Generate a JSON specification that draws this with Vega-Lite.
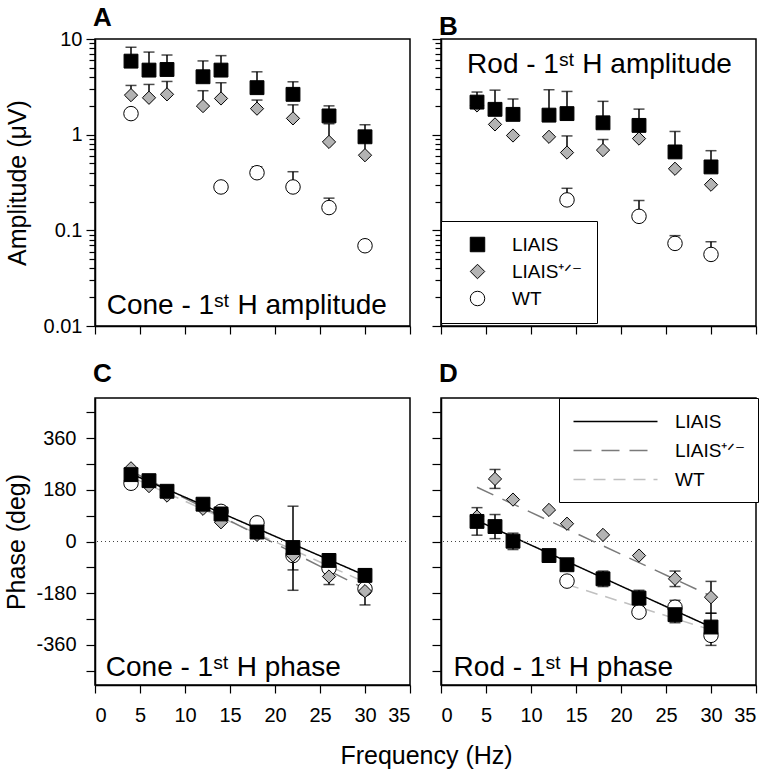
{
  "$schema": "https://vega.github.io/schema/vega-lite/v6.json",
  "padding": {"left": 4, "top": 4, "right": 5, "bottom": 5},
  "config": {
    "font": "Liberation Sans",
    "view": {"stroke": "black", "strokeWidth": 1.5},
    "axis": {"domainColor": "black", "domainWidth": 1.5, "tickColor": "black", "tickWidth": 1.2, "tickSize": 8, "labelFontSize": 20, "labelColor": "black", "labelFont": "Liberation Sans", "titleFontSize": 25, "titleFontWeight": "normal", "titleColor": "black", "titleFont": "Liberation Sans", "grid": false, "labelOverlap": false},
    "legend": {"labelFont": "Liberation Sans", "labelColor": "black"},
    "style": {"group-title": {"fontSize": 26, "fontWeight": "bold", "color": "black", "font": "Liberation Sans"}}
  },
  "datasets": {
    "amp": [
      {"panel": "A", "grp": "WT", "f": 4, "amp": 1.66},
      {"panel": "A", "grp": "WT", "f": 14, "amp": 0.284, "hi": 0.31},
      {"panel": "A", "grp": "WT", "f": 18, "amp": 0.40, "hi": 0.46},
      {"panel": "A", "grp": "WT", "f": 22, "amp": 0.284, "hi": 0.41},
      {"panel": "A", "grp": "WT", "f": 26, "amp": 0.173, "hi": 0.217},
      {"panel": "A", "grp": "WT", "f": 30, "amp": 0.069},
      {"panel": "A", "grp": "LIAIS⁺ᐟ⁻", "f": 4, "amp": 2.59, "hi": 3.27},
      {"panel": "A", "grp": "LIAIS⁺ᐟ⁻", "f": 6, "amp": 2.43, "hi": 3.35},
      {"panel": "A", "grp": "LIAIS⁺ᐟ⁻", "f": 8, "amp": 2.64, "hi": 3.6},
      {"panel": "A", "grp": "LIAIS⁺ᐟ⁻", "f": 12, "amp": 1.99, "hi": 2.88},
      {"panel": "A", "grp": "LIAIS⁺ᐟ⁻", "f": 14, "amp": 2.39, "hi": 3.49},
      {"panel": "A", "grp": "LIAIS⁺ᐟ⁻", "f": 18, "amp": 1.87, "hi": 2.3},
      {"panel": "A", "grp": "LIAIS⁺ᐟ⁻", "f": 22, "amp": 1.48, "hi": 2.05},
      {"panel": "A", "grp": "LIAIS⁺ᐟ⁻", "f": 26, "amp": 0.84, "hi": 1.3},
      {"panel": "A", "grp": "LIAIS⁺ᐟ⁻", "f": 30, "amp": 0.61, "hi": 0.9},
      {"panel": "A", "grp": "LIAIS", "f": 4, "amp": 5.87, "hi": 8.2},
      {"panel": "A", "grp": "LIAIS", "f": 6, "amp": 4.73, "hi": 7.3},
      {"panel": "A", "grp": "LIAIS", "f": 8, "amp": 4.8, "hi": 6.8},
      {"panel": "A", "grp": "LIAIS", "f": 12, "amp": 4.03, "hi": 5.9},
      {"panel": "A", "grp": "LIAIS", "f": 14, "amp": 4.73, "hi": 6.7},
      {"panel": "A", "grp": "LIAIS", "f": 18, "amp": 3.1, "hi": 4.54},
      {"panel": "A", "grp": "LIAIS", "f": 22, "amp": 2.64, "hi": 3.57},
      {"panel": "A", "grp": "LIAIS", "f": 26, "amp": 1.57, "hi": 2.0},
      {"panel": "A", "grp": "LIAIS", "f": 30, "amp": 0.95, "hi": 1.27},
      {"panel": "B", "grp": "WT", "f": 14, "amp": 0.208, "hi": 0.275},
      {"panel": "B", "grp": "WT", "f": 22, "amp": 0.14, "hi": 0.205},
      {"panel": "B", "grp": "WT", "f": 26, "amp": 0.073, "hi": 0.088},
      {"panel": "B", "grp": "WT", "f": 30, "amp": 0.056, "hi": 0.076},
      {"panel": "B", "grp": "LIAIS⁺ᐟ⁻", "f": 4, "amp": 2.02},
      {"panel": "B", "grp": "LIAIS⁺ᐟ⁻", "f": 6, "amp": 1.28},
      {"panel": "B", "grp": "LIAIS⁺ᐟ⁻", "f": 8, "amp": 0.98},
      {"panel": "B", "grp": "LIAIS⁺ᐟ⁻", "f": 12, "amp": 0.95},
      {"panel": "B", "grp": "LIAIS⁺ᐟ⁻", "f": 14, "amp": 0.65, "hi": 0.97},
      {"panel": "B", "grp": "LIAIS⁺ᐟ⁻", "f": 18, "amp": 0.69, "hi": 0.89},
      {"panel": "B", "grp": "LIAIS⁺ᐟ⁻", "f": 22, "amp": 0.91},
      {"panel": "B", "grp": "LIAIS⁺ᐟ⁻", "f": 26, "amp": 0.44},
      {"panel": "B", "grp": "LIAIS⁺ᐟ⁻", "f": 30, "amp": 0.30},
      {"panel": "B", "grp": "LIAIS", "f": 4, "amp": 2.19, "hi": 2.79},
      {"panel": "B", "grp": "LIAIS", "f": 6, "amp": 1.84, "hi": 2.92},
      {"panel": "B", "grp": "LIAIS", "f": 8, "amp": 1.63, "hi": 2.36},
      {"panel": "B", "grp": "LIAIS", "f": 12, "amp": 1.60, "hi": 2.95},
      {"panel": "B", "grp": "LIAIS", "f": 14, "amp": 1.66, "hi": 2.83},
      {"panel": "B", "grp": "LIAIS", "f": 18, "amp": 1.33, "hi": 2.23},
      {"panel": "B", "grp": "LIAIS", "f": 22, "amp": 1.25, "hi": 1.85},
      {"panel": "B", "grp": "LIAIS", "f": 26, "amp": 0.66, "hi": 1.08},
      {"panel": "B", "grp": "LIAIS", "f": 30, "amp": 0.46, "hi": 0.68}
    ],
    "phase": [
      {"panel": "C", "grp": "WT", "f": 4, "ph": 203},
      {"panel": "C", "grp": "WT", "f": 14, "ph": 105},
      {"panel": "C", "grp": "WT", "f": 18, "ph": 65},
      {"panel": "C", "grp": "WT", "f": 22, "ph": -49, "lo": -99, "hi": 0},
      {"panel": "C", "grp": "WT", "f": 26, "ph": -93},
      {"panel": "C", "grp": "WT", "f": 30, "ph": -165},
      {"panel": "C", "grp": "LIAIS⁺ᐟ⁻", "f": 4, "ph": 255},
      {"panel": "C", "grp": "LIAIS⁺ᐟ⁻", "f": 6, "ph": 193},
      {"panel": "C", "grp": "LIAIS⁺ᐟ⁻", "f": 8, "ph": 160},
      {"panel": "C", "grp": "LIAIS⁺ᐟ⁻", "f": 12, "ph": 114},
      {"panel": "C", "grp": "LIAIS⁺ᐟ⁻", "f": 14, "ph": 67},
      {"panel": "C", "grp": "LIAIS⁺ᐟ⁻", "f": 18, "ph": 23},
      {"panel": "C", "grp": "LIAIS⁺ᐟ⁻", "f": 22, "ph": -49},
      {"panel": "C", "grp": "LIAIS⁺ᐟ⁻", "f": 26, "ph": -122, "lo": -150, "hi": -94},
      {"panel": "C", "grp": "LIAIS⁺ᐟ⁻", "f": 30, "ph": -173, "lo": -221, "hi": -125},
      {"panel": "C", "grp": "LIAIS", "f": 4, "ph": 233},
      {"panel": "C", "grp": "LIAIS", "f": 6, "ph": 212},
      {"panel": "C", "grp": "LIAIS", "f": 8, "ph": 175},
      {"panel": "C", "grp": "LIAIS", "f": 12, "ph": 130},
      {"panel": "C", "grp": "LIAIS", "f": 14, "ph": 96},
      {"panel": "C", "grp": "LIAIS", "f": 18, "ph": 33},
      {"panel": "C", "grp": "LIAIS", "f": 22, "ph": -21, "lo": -170, "hi": 123},
      {"panel": "C", "grp": "LIAIS", "f": 26, "ph": -66},
      {"panel": "C", "grp": "LIAIS", "f": 30, "ph": -118, "lo": -140, "hi": -95},
      {"panel": "D", "grp": "WT", "f": 14, "ph": -138},
      {"panel": "D", "grp": "WT", "f": 22, "ph": -246},
      {"panel": "D", "grp": "WT", "f": 26, "ph": -229, "lo": -255, "hi": -205},
      {"panel": "D", "grp": "WT", "f": 30, "ph": -327, "lo": -362, "hi": -292},
      {"panel": "D", "grp": "LIAIS⁺ᐟ⁻", "f": 4, "ph": 87},
      {"panel": "D", "grp": "LIAIS⁺ᐟ⁻", "f": 6, "ph": 218, "lo": 185, "hi": 251},
      {"panel": "D", "grp": "LIAIS⁺ᐟ⁻", "f": 8, "ph": 146},
      {"panel": "D", "grp": "LIAIS⁺ᐟ⁻", "f": 12, "ph": 110},
      {"panel": "D", "grp": "LIAIS⁺ᐟ⁻", "f": 14, "ph": 62},
      {"panel": "D", "grp": "LIAIS⁺ᐟ⁻", "f": 18, "ph": 23},
      {"panel": "D", "grp": "LIAIS⁺ᐟ⁻", "f": 22, "ph": -49},
      {"panel": "D", "grp": "LIAIS⁺ᐟ⁻", "f": 26, "ph": -130, "lo": -157, "hi": -103},
      {"panel": "D", "grp": "LIAIS⁺ᐟ⁻", "f": 30, "ph": -194, "lo": -250, "hi": -139},
      {"panel": "D", "grp": "LIAIS", "f": 4, "ph": 70, "lo": 22, "hi": 118},
      {"panel": "D", "grp": "LIAIS", "f": 6, "ph": 52, "lo": 10, "hi": 94},
      {"panel": "D", "grp": "LIAIS", "f": 8, "ph": 1, "lo": -28, "hi": 29},
      {"panel": "D", "grp": "LIAIS", "f": 12, "ph": -49},
      {"panel": "D", "grp": "LIAIS", "f": 14, "ph": -81},
      {"panel": "D", "grp": "LIAIS", "f": 18, "ph": -130, "lo": -157, "hi": -103},
      {"panel": "D", "grp": "LIAIS", "f": 22, "ph": -197, "lo": -223, "hi": -170},
      {"panel": "D", "grp": "LIAIS", "f": 26, "ph": -255, "lo": -283, "hi": -228},
      {"panel": "D", "grp": "LIAIS", "f": 30, "ph": -298, "lo": -343, "hi": -250}
    ],
    "fit": [
      {"panel": "C", "line": "WT", "f": 4, "ph": 225},
      {"panel": "C", "line": "WT", "f": 30, "ph": -142},
      {"panel": "C", "line": "LIAIS⁺ᐟ⁻", "f": 4, "ph": 245},
      {"panel": "C", "line": "LIAIS⁺ᐟ⁻", "f": 30, "ph": -165},
      {"panel": "C", "line": "LIAIS", "f": 4, "ph": 236},
      {"panel": "C", "line": "LIAIS", "f": 30, "ph": -118},
      {"panel": "D", "line": "WT", "f": 14, "ph": -150},
      {"panel": "D", "line": "WT", "f": 30, "ph": -308},
      {"panel": "D", "line": "LIAIS⁺ᐟ⁻", "f": 4, "ph": 189},
      {"panel": "D", "line": "LIAIS⁺ᐟ⁻", "f": 30, "ph": -190},
      {"panel": "D", "line": "LIAIS", "f": 4, "ph": 73},
      {"panel": "D", "line": "LIAIS", "f": 30, "ph": -298}
    ]
  },
  "columns": 2,
  "spacing": {"row": 72, "column": 31},
  "bounds": "flush",
  "resolve": {
    "scale": {"x": "independent", "y": "independent", "shape": "independent", "fill": "independent", "size": "independent", "stroke": "independent", "strokeDash": "independent"},
    "axis": {"x": "independent", "y": "independent"},
    "legend": {"shape": "independent", "fill": "independent", "size": "independent", "stroke": "independent", "strokeDash": "independent"}
  },
  "concat": [
    {
      "title": {"text": "A", "dx": -2, "anchor": "start", "frame": "group", "baseline": "alphabetic", "offset": -23},
      "width": 315, "height": 287,
      "layer": [
        {
          "data": {"name": "amp"},
          "transform": [{"filter": "datum.panel == 'A' && isValid(datum.hi)"}],
          "mark": {"type": "rule", "color": "black", "strokeWidth": 1.5},
          "encoding": {
            "x": {"field": "f", "type": "quantitative", "scale": {"domain": [0, 35], "nice": false, "zero": false}, "axis": {"values": [0, 5, 10, 15, 20, 25, 30, 35], "labels": false, "title": null}},
            "y": {"field": "amp", "type": "quantitative", "scale": {"type": "log", "domain": [0.01, 10], "nice": false},
              "axis": {"values": [0.01, 0.02, 0.03, 0.04, 0.05, 0.06, 0.07, 0.08, 0.09, 0.1, 0.2, 0.3, 0.4, 0.5, 0.6, 0.7, 0.8, 0.9, 1, 2, 3, 4, 5, 6, 7, 8, 9, 10],
                "tickCount": 40, "format": "~g", "labelExpr": "indexof(['0.01','0.1','1','10'], datum.label) >= 0 ? datum.label : ''",
                "tickSize": {"condition": {"test": "indexof([0.01, 0.1, 1, 10], datum.value) >= 0", "value": 9}, "value": 6},
                "labelPadding": 4, "title": "Amplitude (μV)", "titlePadding": 13}},
            "y2": {"field": "hi"}
          }
        },
        {
          "data": {"name": "amp"},
          "transform": [{"filter": "datum.panel == 'A' && isValid(datum.hi)"}],
          "mark": {"type": "tick", "orient": "horizontal", "color": "black", "size": 11, "thickness": 1.5},
          "encoding": {
            "x": {"field": "f", "type": "quantitative"},
            "y": {"field": "hi", "type": "quantitative"}
          }
        },
        {
          "data": {"name": "amp"},
          "transform": [{"filter": "datum.panel == 'A'"}],
          "mark": {"type": "point", "filled": true, "stroke": "black", "strokeWidth": 1, "opacity": 1},
          "encoding": {
            "x": {"field": "f", "type": "quantitative"},
            "y": {"field": "amp", "type": "quantitative"},
            "shape": {"field": "grp", "type": "nominal", "scale": {"domain": ["LIAIS", "LIAIS⁺ᐟ⁻", "WT"], "range": ["square", "diamond", "circle"]}, "legend": null},
            "fill": {"field": "grp", "type": "nominal", "scale": {"domain": ["LIAIS", "LIAIS⁺ᐟ⁻", "WT"], "range": ["black", "#b3b3b3", "white"]}, "legend": null},
            "size": {"field": "grp", "type": "nominal", "scale": {"domain": ["WT", "LIAIS", "LIAIS⁺ᐟ⁻"], "range": [210, 175, 280]}, "legend": null}
          }
        },
        {
          "data": {"values": [{}]},
          "mark": {"type": "text", "align": "left", "baseline": "alphabetic", "fontSize": 28, "color": "black"},
          "encoding": {
            "x": {"datum": 1.3, "type": "quantitative"},
            "y": {"datum": 0.0132, "type": "quantitative"},
            "text": {"value": "Cone - 1ˢᵗ H amplitude"}
          }
        }
      ]
    },
    {
      "title": {"text": "B", "dx": -2, "anchor": "start", "frame": "group", "baseline": "alphabetic", "offset": -23},
      "width": 315, "height": 287,
      "layer": [
        {
          "data": {"name": "amp"},
          "transform": [{"filter": "datum.panel == 'B' && isValid(datum.hi)"}],
          "mark": {"type": "rule", "color": "black", "strokeWidth": 1.5},
          "encoding": {
            "x": {"field": "f", "type": "quantitative", "scale": {"domain": [0, 35], "nice": false, "zero": false}, "axis": {"values": [0, 5, 10, 15, 20, 25, 30, 35], "labels": false, "title": null}},
            "y": {"field": "amp", "type": "quantitative", "scale": {"type": "log", "domain": [0.01, 10], "nice": false},
              "axis": {"values": [0.01, 0.02, 0.03, 0.04, 0.05, 0.06, 0.07, 0.08, 0.09, 0.1, 0.2, 0.3, 0.4, 0.5, 0.6, 0.7, 0.8, 0.9, 1, 2, 3, 4, 5, 6, 7, 8, 9, 10],
                "tickCount": 40, "labels": false,
                "tickSize": {"condition": {"test": "indexof([0.01, 0.1, 1, 10], datum.value) >= 0", "value": 9}, "value": 6},
                "title": null}},
            "y2": {"field": "hi"}
          }
        },
        {
          "data": {"name": "amp"},
          "transform": [{"filter": "datum.panel == 'B' && isValid(datum.hi)"}],
          "mark": {"type": "tick", "orient": "horizontal", "color": "black", "size": 11, "thickness": 1.5},
          "encoding": {
            "x": {"field": "f", "type": "quantitative"},
            "y": {"field": "hi", "type": "quantitative"}
          }
        },
        {
          "data": {"name": "amp"},
          "transform": [{"filter": "datum.panel == 'B'"}],
          "mark": {"type": "point", "filled": true, "strokeWidth": 1, "opacity": 1},
          "encoding": {
            "x": {"field": "f", "type": "quantitative"},
            "y": {"field": "amp", "type": "quantitative"},
            "shape": {"field": "grp", "type": "nominal", "scale": {"domain": ["LIAIS", "LIAIS⁺ᐟ⁻", "WT"], "range": ["square", "diamond", "circle"]},
              "legend": {"orient": "none", "legendX": 0, "legendY": 182, "title": null, "strokeColor": "black", "fillColor": "white", "padding": 14, "symbolOffset": 13, "labelOffset": 25, "rowPadding": 7, "labelFontSize": 19, "symbolSize": 210, "symbolStrokeWidth": 1, "cornerRadius": 0}},
            "fill": {"field": "grp", "type": "nominal", "scale": {"domain": ["LIAIS", "LIAIS⁺ᐟ⁻", "WT"], "range": ["black", "#b3b3b3", "white"]},
              "legend": {"orient": "none", "legendX": 0, "legendY": 182, "title": null, "strokeColor": "black", "fillColor": "white", "padding": 14, "symbolOffset": 13, "labelOffset": 25, "rowPadding": 7, "labelFontSize": 19, "symbolSize": 210, "symbolStrokeWidth": 1, "cornerRadius": 0}},
            "stroke": {"field": "grp", "type": "nominal", "scale": {"domain": ["LIAIS", "LIAIS⁺ᐟ⁻", "WT"], "range": ["black", "black", "black"]},
              "legend": {"orient": "none", "legendX": 0, "legendY": 182, "title": null, "strokeColor": "black", "fillColor": "white", "padding": 14, "symbolOffset": 13, "labelOffset": 25, "rowPadding": 7, "labelFontSize": 19, "symbolSize": 210, "symbolStrokeWidth": 1, "cornerRadius": 0}},
            "size": {"field": "grp", "type": "nominal", "scale": {"domain": ["WT", "LIAIS", "LIAIS⁺ᐟ⁻"], "range": [210, 175, 280]}, "legend": null}
          }
        },
        {
          "data": {"values": [{}]},
          "mark": {"type": "text", "align": "left", "baseline": "alphabetic", "fontSize": 28, "color": "black"},
          "encoding": {
            "x": {"datum": 2.9, "type": "quantitative"},
            "y": {"datum": 4.4, "type": "quantitative"},
            "text": {"value": "Rod - 1ˢᵗ H amplitude"}
          }
        }
      ]
    },
    {
      "title": {"text": "C", "dx": -2, "anchor": "start", "frame": "group", "baseline": "alphabetic", "offset": -10},
      "width": 315, "height": 287,
      "layer": [
        {
          "data": {"name": "fit"},
          "transform": [{"filter": "datum.panel == 'C'"}],
          "mark": {"type": "line", "strokeWidth": 1.5},
          "encoding": {
            "x": {"field": "f", "type": "quantitative", "scale": {"domain": [0, 35], "nice": false, "zero": false},
              "axis": {"values": [0, 5, 10, 15, 20, 25, 30, 35], "labelPadding": 12, "title": "Frequency (Hz)", "titleX": 331, "titleAlign": "center", "titlePadding": 18}},
            "y": {"field": "ph", "type": "quantitative", "scale": {"domain": [-500, 500], "nice": false, "zero": false},
              "axis": {"values": [-450, -360, -270, -180, -90, 0, 90, 180, 270, 360, 450], "tickCount": 40,
                "labelExpr": "datum.value == 360 ? '360' : datum.value == 180 ? '180' : datum.value == 0 ? '0' : datum.value == -180 ? '-180' : datum.value == -360 ? '-360' : ''",
                "tickSize": 9, "labelPadding": 10, "title": "Phase (deg)", "titlePadding": 6}},
            "detail": {"field": "line"},
            "stroke": {"field": "line", "type": "nominal", "scale": {"domain": ["WT", "LIAIS⁺ᐟ⁻", "LIAIS"], "range": ["#c0c0c0", "#7a7a7a", "black"]}, "legend": null},
            "strokeDash": {"field": "line", "type": "nominal", "scale": {"domain": ["WT", "LIAIS⁺ᐟ⁻", "LIAIS"], "range": [[12, 8], [18, 10], [1, 0]]}, "legend": null}
          }
        },
        {
          "data": {"values": [{}]},
          "mark": {"type": "rule", "color": "#444444", "strokeWidth": 1, "strokeDash": [1, 3]},
          "encoding": {
            "y": {"datum": 0, "type": "quantitative"}
          }
        },
        {
          "data": {"name": "phase"},
          "transform": [{"filter": "datum.panel == 'C' && isValid(datum.hi)"}],
          "mark": {"type": "rule", "color": "black", "strokeWidth": 1.5},
          "encoding": {
            "x": {"field": "f", "type": "quantitative"},
            "y": {"field": "lo", "type": "quantitative"},
            "y2": {"field": "hi"}
          }
        },
        {
          "data": {"name": "phase"},
          "transform": [{"filter": "datum.panel == 'C' && isValid(datum.hi)"}],
          "mark": {"type": "tick", "orient": "horizontal", "color": "black", "size": 11, "thickness": 1.5},
          "encoding": {
            "x": {"field": "f", "type": "quantitative"},
            "y": {"field": "hi", "type": "quantitative"}
          }
        },
        {
          "data": {"name": "phase"},
          "transform": [{"filter": "datum.panel == 'C' && isValid(datum.lo)"}],
          "mark": {"type": "tick", "orient": "horizontal", "color": "black", "size": 11, "thickness": 1.5},
          "encoding": {
            "x": {"field": "f", "type": "quantitative"},
            "y": {"field": "lo", "type": "quantitative"}
          }
        },
        {
          "data": {"name": "phase"},
          "transform": [{"filter": "datum.panel == 'C'"}],
          "mark": {"type": "point", "filled": true, "stroke": "black", "strokeWidth": 1, "opacity": 1},
          "encoding": {
            "x": {"field": "f", "type": "quantitative"},
            "y": {"field": "ph", "type": "quantitative"},
            "shape": {"field": "grp", "type": "nominal", "scale": {"domain": ["LIAIS", "LIAIS⁺ᐟ⁻", "WT"], "range": ["square", "diamond", "circle"]}, "legend": null},
            "fill": {"field": "grp", "type": "nominal", "scale": {"domain": ["LIAIS", "LIAIS⁺ᐟ⁻", "WT"], "range": ["black", "#b3b3b3", "white"]}, "legend": null},
            "size": {"field": "grp", "type": "nominal", "scale": {"domain": ["WT", "LIAIS", "LIAIS⁺ᐟ⁻"], "range": [210, 175, 280]}, "legend": null}
          }
        },
        {
          "data": {"values": [{}]},
          "mark": {"type": "text", "align": "left", "baseline": "alphabetic", "fontSize": 28, "color": "black"},
          "encoding": {
            "x": {"datum": 1.2, "type": "quantitative"},
            "y": {"datum": -467, "type": "quantitative"},
            "text": {"value": "Cone - 1ˢᵗ H phase"}
          }
        }
      ]
    },
    {
      "title": {"text": "D", "dx": -2, "anchor": "start", "frame": "group", "baseline": "alphabetic", "offset": -10},
      "width": 315, "height": 287,
      "layer": [
        {
          "data": {"name": "fit"},
          "transform": [{"filter": "datum.panel == 'D'"}],
          "mark": {"type": "line", "strokeWidth": 1.5},
          "encoding": {
            "x": {"field": "f", "type": "quantitative", "scale": {"domain": [0, 35], "nice": false, "zero": false},
              "axis": {"values": [0, 5, 10, 15, 20, 25, 30, 35], "labelPadding": 12, "title": null}},
            "y": {"field": "ph", "type": "quantitative", "scale": {"domain": [-500, 500], "nice": false, "zero": false},
              "axis": {"values": [-450, -360, -270, -180, -90, 0, 90, 180, 270, 360, 450], "tickCount": 40, "labels": false, "tickSize": 9, "title": null}},
            "detail": {"field": "line"},
            "stroke": {"field": "line", "type": "nominal", "scale": {"domain": ["WT", "LIAIS⁺ᐟ⁻", "LIAIS"], "range": ["#c0c0c0", "#7a7a7a", "black"]},
              "legend": {"orient": "none", "legendX": 118, "legendY": 0, "title": null, "values": ["LIAIS", "LIAIS⁺ᐟ⁻", "WT"], "strokeColor": "black", "fillColor": "white", "padding": 12, "symbolType": "M-4,0L4,0", "symbolSize": 441, "symbolOffset": 33, "symbolStrokeWidth": 1.5, "labelOffset": 48, "rowPadding": 7, "labelFontSize": 19, "cornerRadius": 0}},
            "strokeDash": {"field": "line", "type": "nominal", "scale": {"domain": ["WT", "LIAIS⁺ᐟ⁻", "LIAIS"], "range": [[12, 8], [18, 10], [1, 0]]},
              "legend": {"orient": "none", "legendX": 118, "legendY": 0, "title": null, "values": ["LIAIS", "LIAIS⁺ᐟ⁻", "WT"], "strokeColor": "black", "fillColor": "white", "padding": 12, "symbolType": "M-4,0L4,0", "symbolSize": 441, "symbolOffset": 33, "symbolStrokeWidth": 1.5, "labelOffset": 48, "rowPadding": 7, "labelFontSize": 19, "cornerRadius": 0}}
          }
        },
        {
          "data": {"values": [{}]},
          "mark": {"type": "rule", "color": "#444444", "strokeWidth": 1, "strokeDash": [1, 3]},
          "encoding": {
            "y": {"datum": 0, "type": "quantitative"}
          }
        },
        {
          "data": {"name": "phase"},
          "transform": [{"filter": "datum.panel == 'D' && isValid(datum.hi)"}],
          "mark": {"type": "rule", "color": "black", "strokeWidth": 1.5},
          "encoding": {
            "x": {"field": "f", "type": "quantitative"},
            "y": {"field": "lo", "type": "quantitative"},
            "y2": {"field": "hi"}
          }
        },
        {
          "data": {"name": "phase"},
          "transform": [{"filter": "datum.panel == 'D' && isValid(datum.hi)"}],
          "mark": {"type": "tick", "orient": "horizontal", "color": "black", "size": 11, "thickness": 1.5},
          "encoding": {
            "x": {"field": "f", "type": "quantitative"},
            "y": {"field": "hi", "type": "quantitative"}
          }
        },
        {
          "data": {"name": "phase"},
          "transform": [{"filter": "datum.panel == 'D' && isValid(datum.lo)"}],
          "mark": {"type": "tick", "orient": "horizontal", "color": "black", "size": 11, "thickness": 1.5},
          "encoding": {
            "x": {"field": "f", "type": "quantitative"},
            "y": {"field": "lo", "type": "quantitative"}
          }
        },
        {
          "data": {"name": "phase"},
          "transform": [{"filter": "datum.panel == 'D'"}],
          "mark": {"type": "point", "filled": true, "stroke": "black", "strokeWidth": 1, "opacity": 1},
          "encoding": {
            "x": {"field": "f", "type": "quantitative"},
            "y": {"field": "ph", "type": "quantitative"},
            "shape": {"field": "grp", "type": "nominal", "scale": {"domain": ["LIAIS", "LIAIS⁺ᐟ⁻", "WT"], "range": ["square", "diamond", "circle"]}, "legend": null},
            "fill": {"field": "grp", "type": "nominal", "scale": {"domain": ["LIAIS", "LIAIS⁺ᐟ⁻", "WT"], "range": ["black", "#b3b3b3", "white"]}, "legend": null},
            "size": {"field": "grp", "type": "nominal", "scale": {"domain": ["WT", "LIAIS", "LIAIS⁺ᐟ⁻"], "range": [210, 175, 280]}, "legend": null}
          }
        },
        {
          "data": {"values": [{}]},
          "mark": {"type": "text", "align": "left", "baseline": "alphabetic", "fontSize": 28, "color": "black"},
          "encoding": {
            "x": {"datum": 1.4, "type": "quantitative"},
            "y": {"datum": -467, "type": "quantitative"},
            "text": {"value": "Rod - 1ˢᵗ H phase"}
          }
        }
      ]
    }
  ]
}
